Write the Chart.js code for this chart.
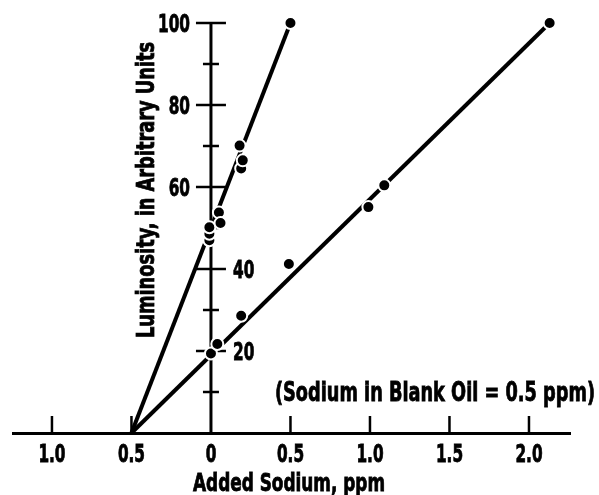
<!DOCTYPE html>
<html>
<head>
<meta charset="utf-8">
<script src="https://cdn.jsdelivr.net/npm/chart.js"></script>
<style>
  html, body { margin: 0; padding: 0; background: #fff; }
  #wrap { width: 599px; height: 495px; }
</style>
</head>
<body>
<div id="wrap"><canvas id="chart" width="599" height="495"></canvas></div>
<script>
// measured points, steep line
const steepX = [-0.01, -0.01, -0.01, 0.05, 0.06, 0.18, 0.19, 0.2, 0.5];
const steepY = [47, 48.6, 50.2, 53.8, 51.2, 70.1, 64.5, 66.5, 100];

// measured points, shallow line
const shallowX = [0, 0.04, 0.19, 0.49, 0.99, 1.09, 2.13];
const shallowY = [19.4, 21.7, 28.6, 41.2, 55.1, 60.4, 100];

// fitted lines, both run back to -0.5 ppm
const steepFitX = [-0.5, 0.5];
const steepFitY = [0, 100];
const shallowFitX = [-0.5, 2.13];
const shallowFitY = [0, 100];

// axes
const xTickValues = [-1, -0.5, 0, 0.5, 1, 1.5, 2];
const xTickLabels = ['1.0', '0.5', '0', '0.5', '1.0', '1.5', '2.0'];
const yMajorTicks = [20, 40, 60, 80, 100];
const yMajorLabels = ['20', '40', '60', '80', '100'];
const yMinorTicks = [10, 30, 50, 70, 90];

const xTitle = 'Added Sodium, ppm';
const yTitle = 'Luminosity, in Arbitrary Units';
const note = '(Sodium in Blank Oil = 0.5 ppm)';

const FONT = "'Liberation Sans Narrow', 'DejaVu Sans Condensed', 'DejaVu Sans', sans-serif";

function toPoints(xs, ys) {
  return xs.map((x, i) => ({ x: x, y: ys[i] }));
}

// draws text squeezed sideways by factor s (the original type is a tall condensed gothic)
function squeezed(ctx, text, x, y, s, align) {
  ctx.save();
  ctx.translate(x, y);
  ctx.scale(s, 1);
  ctx.textAlign = align;
  ctx.fillText(text, 0, 0);
  ctx.lineWidth = 0.8;
  ctx.strokeText(text, 0, 0);
  ctx.restore();
}

function fitFactor(ctx, text, width) {
  return width / ctx.measureText(text).width;
}

const axisPlugin = {
  id: 'axisPlugin',
  beforeDatasetsDraw(chart) {
    const { ctx, scales: { x, y } } = chart;
    const x0 = x.getPixelForValue(0);
    const yBase = y.getPixelForValue(0);
    ctx.save();
    ctx.strokeStyle = '#000';
    ctx.fillStyle = '#000';
    ctx.lineCap = 'butt';

    // vertical axis at zero added sodium
    ctx.lineWidth = 3;
    ctx.beginPath();
    ctx.moveTo(x0, yBase);
    ctx.lineTo(x0, y.getPixelForValue(100) - 1);
    ctx.stroke();

    ctx.lineWidth = 2.5;
    yMajorTicks.forEach(v => {
      const py = y.getPixelForValue(v);
      ctx.beginPath();
      ctx.moveTo(x0 - 15, py);
      ctx.lineTo(x0 + 15, py);
      ctx.stroke();
    });
    yMinorTicks.forEach(v => {
      const py = y.getPixelForValue(v);
      ctx.beginPath();
      ctx.moveTo(x0 - 8, py);
      ctx.lineTo(x0 + 8, py);
      ctx.stroke();
    });

    // x ticks point upward from the baseline
    xTickValues.forEach(v => {
      if (v === 0) return;
      const px = x.getPixelForValue(v);
      ctx.beginPath();
      ctx.moveTo(px, yBase);
      ctx.lineTo(px, yBase - 17);
      ctx.stroke();
    });

    ctx.font = 'bold 25px ' + FONT;
    ctx.textBaseline = 'alphabetic';
    const s = fitFactor(ctx, '100', 32);

    // y labels: upper ones left of the axis, lower ones right
    yMajorTicks.forEach((v, i) => {
      const py = y.getPixelForValue(v) + 9;
      if (v >= 60) squeezed(ctx, yMajorLabels[i], x0 - 21, py, s, 'right');
      else squeezed(ctx, yMajorLabels[i], x0 + 22, py, s, 'left');
    });

    // x labels
    xTickValues.forEach((v, i) => {
      squeezed(ctx, xTickLabels[i], x.getPixelForValue(v), yBase + 29, s, 'center');
    });

    // axis titles
    squeezed(ctx, xTitle, 289, 491, fitFactor(ctx, xTitle, 192), 'center');
    ctx.save();
    ctx.translate(154, 190);
    ctx.rotate(-Math.PI / 2);
    squeezed(ctx, yTitle, 0, 0, fitFactor(ctx, yTitle, 296), 'center');
    ctx.restore();

    // note
    ctx.font = 'bold 26px ' + FONT;
    squeezed(ctx, note, 595, 401, fitFactor(ctx, note, 320), 'right');
    ctx.restore();
  }
};

const pointStyle = {
  showLine: false,
  pointRadius: 6,
  pointHoverRadius: 6,
  pointBackgroundColor: '#000',
  pointBorderColor: '#fff',
  pointBorderWidth: 2,
  clip: false,
  order: 1
};

const lineStyle = {
  showLine: true,
  borderColor: '#000',
  borderWidth: 4,
  pointRadius: 0,
  clip: false,
  order: 2
};

new Chart(document.getElementById('chart'), {
  type: 'scatter',
  data: {
    datasets: [
      Object.assign({ label: 'Steep points', data: toPoints(steepX, steepY) }, pointStyle),
      Object.assign({ label: 'Shallow points', data: toPoints(shallowX, shallowY) }, pointStyle),
      Object.assign({ label: 'Steep fit', data: toPoints(steepFitX, steepFitY) }, lineStyle),
      Object.assign({ label: 'Shallow fit', data: toPoints(shallowFitX, shallowFitY) }, lineStyle)
    ]
  },
  options: {
    responsive: false,
    animation: false,
    layout: { padding: { left: 13, right: 29, top: 23, bottom: 62 } },
    plugins: {
      legend: { display: false },
      tooltip: { enabled: false }
    },
    scales: {
      x: {
        type: 'linear',
        min: -1.245,
        max: 2.258,
        border: { display: true, color: '#000', width: 3 },
        grid: { display: true, drawOnChartArea: false, drawTicks: false, color: 'rgba(0,0,0,0)' },
        ticks: { display: false }
      },
      y: {
        type: 'linear',
        display: false,
        min: 0,
        max: 100
      }
    }
  },
  plugins: [axisPlugin]
});
</script>
</body>
</html>
